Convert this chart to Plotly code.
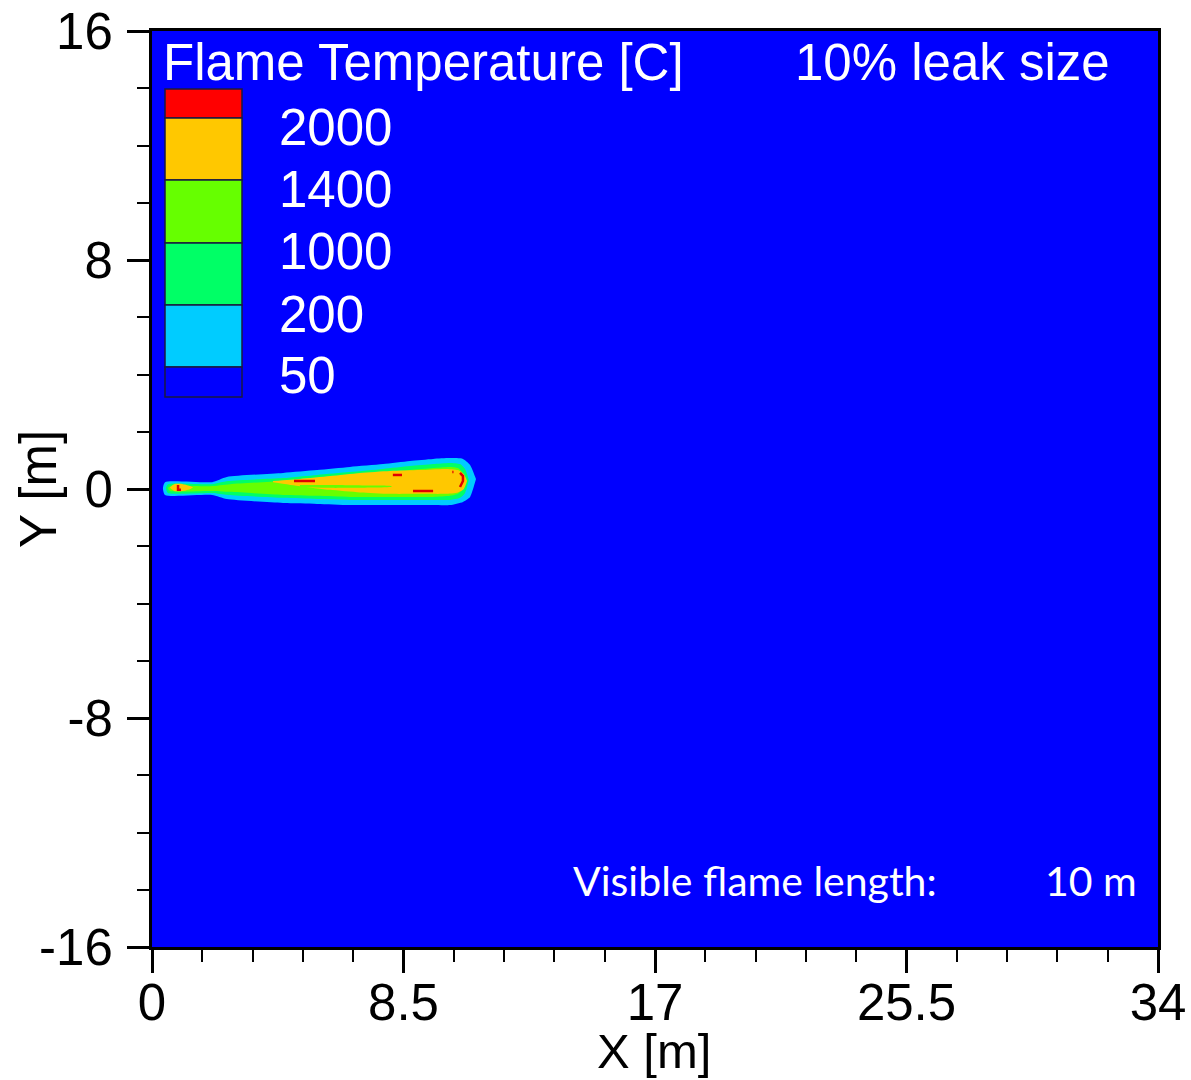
import plotly.graph_objects as go

# ---------------- data (metres / deg C) ----------------
# temperature contour bands, drawn from outermost to innermost
band_names = ["50", "200", "1000", "1400"]
band_colors = ["#00CCFF", "#00FF66", "#66FF00", "#FFC800"]

# 50 C contour (outer edge of cyan region)
x_50 = [0.37, 0.44, 2.03, 2.53, 4.43, 5.58, 6.69, 7.81, 8.72, 9.50, 10.07, 10.51, 10.75, 10.95]
up_50 = [0.03, 0.24, 0.24, 0.42, 0.56, 0.66, 0.77, 0.87, 0.98, 1.05, 1.08, 1.05, 0.84, 0.35]
lo_50 = [0.03, -0.21, -0.21, -0.35, -0.49, -0.52, -0.56, -0.56, -0.56, -0.56, -0.56, -0.45, -0.28, 0.35]

# 200 C contour
x_200 = [0.47, 0.54, 2.03, 2.57, 4.43, 5.58, 6.69, 7.81, 8.72, 9.50, 10.07, 10.41, 10.58, 10.71]
up_200 = [0.03, 0.17, 0.17, 0.28, 0.38, 0.49, 0.59, 0.70, 0.80, 0.87, 0.91, 0.87, 0.70, 0.32]
lo_200 = [0.03, -0.14, -0.14, -0.21, -0.31, -0.35, -0.38, -0.38, -0.38, -0.38, -0.38, -0.31, -0.14, 0.32]

# 1000 C contour
x_1000 = [0.54, 0.61, 1.96, 2.64, 4.43, 5.58, 6.69, 7.81, 8.72, 9.50, 10.07, 10.34, 10.48, 10.61]
up_1000 = [0.03, 0.10, 0.10, 0.17, 0.28, 0.38, 0.45, 0.56, 0.66, 0.73, 0.77, 0.73, 0.59, 0.30]
lo_1000 = [0.03, -0.07, -0.07, -0.10, -0.21, -0.24, -0.28, -0.28, -0.28, -0.28, -0.24, -0.17, -0.03, 0.30]

# 1400 C contour (main core)
x_1400 = [4.09, 5.00, 6.02, 7.03, 8.04, 9.06, 9.90, 10.34, 10.54, 10.65]
up_1400 = [0.28, 0.35, 0.45, 0.56, 0.63, 0.66, 0.70, 0.66, 0.52, 0.28]
lo_1400 = [0.24, 0.10, -0.03, -0.12, -0.17, -0.17, -0.17, -0.12, 0.00, 0.28]

# 1400 C contour (small core near nozzle)
x_1400n = [0.61, 0.75, 1.05, 1.30, 1.39]
up_1400n = [0.05, 0.17, 0.17, 0.10, 0.05]
lo_1400n = [0.05, -0.07, -0.07, 0.00, 0.05]

# cooler streak inside the core (1000-1400 C)
x_streak = [5.00, 6.00, 7.50, 8.10]
up_streak = [0.14, 0.14, 0.12, 0.10]
lo_streak = [0.07, 0.04, 0.05, 0.08]

# > 2000 C spots (short segments)
hot_x = [[4.80, 5.51], [8.14, 8.45], [8.82, 9.50], [10.41, 10.51, 10.51, 10.41], [10.15, 10.19], [0.88, 0.88, 0.98]]
hot_y = [[0.28, 0.28], [0.49, 0.49], [-0.07, -0.07], [0.56, 0.45, 0.28, 0.07], [0.59, 0.59], [0.14, -0.03, -0.03]]

# legend levels
legend_levels = ["2000", "1400", "1000", "200", "50"]
legend_colors = ["#FF0000", "#FFC800", "#66FF00", "#00FF66", "#00CCFF", "#0000FF"]

x_tickvals = [0, 8.5, 17, 25.5, 34]
x_ticktext = ["0", "8.5", "17", "25.5", "34"]
y_tickvals = [-16, -8, 0, 8, 16]
y_ticktext = ["-16", "-8", "0", "8", "16"]

x_title = "X [m]"
y_title = "Y [m]"
title_text = "Flame Temperature [C]"
case_text = "10% leak size"
flame_label = "Visible flame length:"
flame_value = "10 m"

# ---------------- figure ----------------
fig = go.Figure()


def band(xs, up, lo, color):
    fig.add_trace(go.Scatter(
        x=list(xs) + list(xs[::-1]),
        y=list(up) + list(lo[::-1]),
        fill="toself", fillcolor=color, mode="lines",
        line=dict(width=0, shape="spline", smoothing=0.6, color=color),
        hoverinfo="skip", showlegend=False))


band(x_50, up_50, lo_50, band_colors[0])
band(x_200, up_200, lo_200, band_colors[1])
band(x_1000, up_1000, lo_1000, band_colors[2])
band(x_1400n, up_1400n, lo_1400n, band_colors[3])
band(x_1400, up_1400, lo_1400, band_colors[3])
band(x_streak, up_streak, lo_streak, band_colors[2])

for hx, hy in zip(hot_x, hot_y):
    fig.add_trace(go.Scatter(x=hx, y=hy, mode="lines",
                             line=dict(color="#E00000", width=2.5),
                             hoverinfo="skip", showlegend=False))

axis_font = dict(family="Liberation Sans, Arial, sans-serif", size=51, color="black")
xtitle_font = dict(family="Liberation Sans, Arial, sans-serif", size=49, color="black")

fig.update_layout(
    width=1191, height=1080,
    margin=dict(l=152, r=33, t=31, b=133),
    paper_bgcolor="white",
    plot_bgcolor="#0000FF",
    showlegend=False,
    xaxis=dict(
        range=[0, 34], tickmode="array", tickvals=x_tickvals, ticktext=x_ticktext,
        ticks="outside", ticklen=23, tickwidth=3, tickcolor="black",
        showline=True, linewidth=3, linecolor="black", mirror=True,
        showgrid=False, zeroline=False, tickfont=axis_font, automargin=False,
        minor=dict(tickmode="linear", tick0=0, dtick=1.7, ticks="outside",
                   ticklen=12, tickwidth=2, tickcolor="black", showgrid=False),
        ticklabelstandoff=-14,
    ),
    yaxis=dict(
        range=[-16, 16], tickmode="array", tickvals=y_tickvals, ticktext=y_ticktext,
        ticks="outside", ticklen=22, tickwidth=3, tickcolor="black",
        showline=True, linewidth=3, linecolor="black", mirror=True,
        showgrid=False, zeroline=False, tickfont=axis_font, automargin=False,
        minor=dict(tickmode="linear", tick0=0, dtick=2, ticks="outside",
                   ticklen=12, tickwidth=2, tickcolor="black", showgrid=False),
        ticklabelstandoff=4,
    ),
)

# ---- legend drawn inside the plot ----
px_h = 916.0  # plot height in px (layout constant)
px_w = 1006.0


def py(p):  # pixel row (from top of figure) -> paper y
    return (947 - p) / px_h


def pxx(p):  # pixel column -> paper x
    return (p - 152) / px_w


edges = [89, 118, 180, 243, 305, 367, 397]
for i, c in enumerate(legend_colors):
    fig.add_shape(type="rect", xref="paper", yref="paper",
                  x0=pxx(165), x1=pxx(242), y0=py(edges[i + 1]), y1=py(edges[i]),
                  fillcolor=c, line=dict(color="#1a1a40", width=1.5), layer="above")

leg_font = dict(family="Liberation Sans, Arial, sans-serif", size=51, color="white")
for i, lab in enumerate(legend_levels):
    fig.add_annotation(x=pxx(277), y=py(edges[i + 1] + 9), xref="paper", yref="paper",
                       text=lab, showarrow=False, xanchor="left", yanchor="middle",
                       font=leg_font)

fig.add_annotation(x=pxx(161), y=py(63), xref="paper", yref="paper", text=title_text,
                   showarrow=False, xanchor="left", yanchor="middle", font=leg_font)
fig.add_annotation(x=pxx(793), y=py(63), xref="paper", yref="paper", text=case_text,
                   showarrow=False, xanchor="left", yanchor="middle", font=leg_font)

# axis titles
fig.add_annotation(x=pxx(654), y=py(1051), xref="paper", yref="paper", text=x_title,
                   showarrow=False, xanchor="center", yanchor="middle", font=xtitle_font)
fig.add_annotation(x=pxx(38), y=py(489), xref="paper", yref="paper", text=y_title,
                   showarrow=False, xanchor="center", yanchor="middle", font=axis_font,
                   textangle=-90)

note_font = dict(family="Lato, Open Sans, sans-serif", size=41, color="white")
fig.add_annotation(x=pxx(571), y=py(880), xref="paper", yref="paper", text=flame_label,
                   showarrow=False, xanchor="left", yanchor="middle", font=note_font)
fig.add_annotation(x=pxx(1139), y=py(880), xref="paper", yref="paper", text=flame_value,
                   showarrow=False, xanchor="right", yanchor="middle", font=note_font)

fig.write_html("out.html")
